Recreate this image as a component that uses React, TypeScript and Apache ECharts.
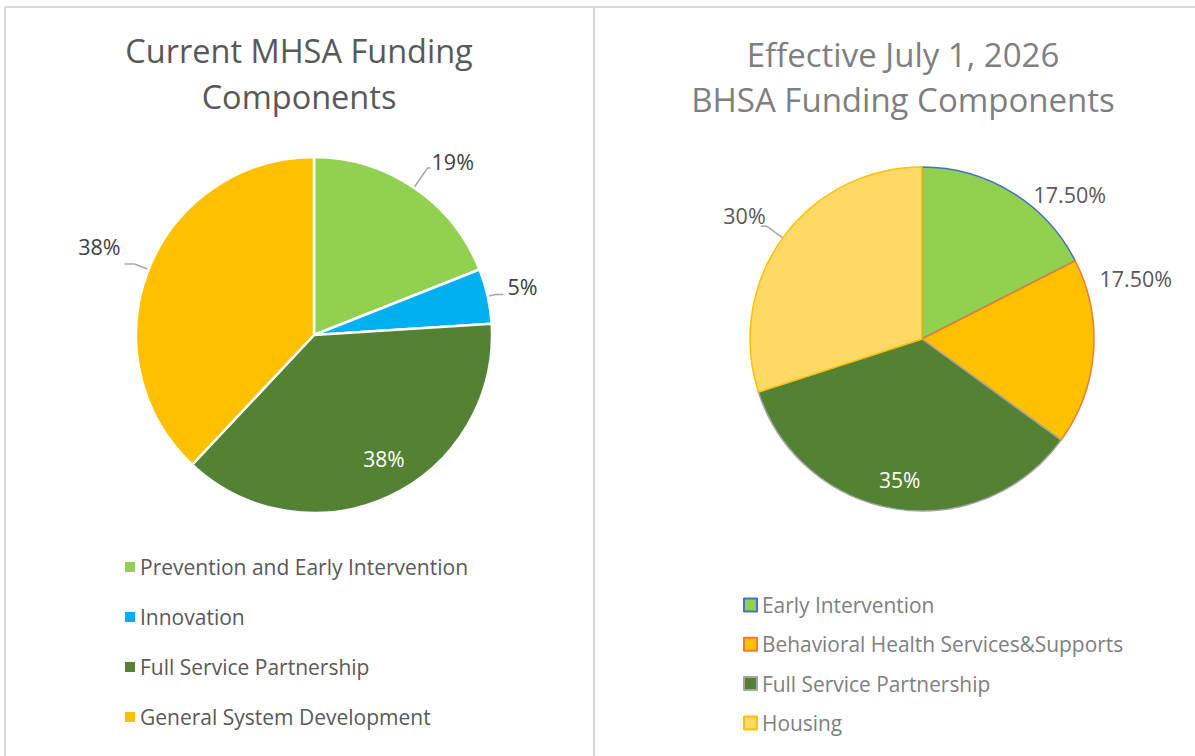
import React, { useEffect, useRef } from "react";
import * as echarts from "echarts";

const mhsaNames = [
  "Prevention and Early Intervention",
  "Innovation",
  "Full Service Partnership",
  "General System Development",
];
const mhsaValues = [19, 5, 38, 38];
const mhsaLabels = ["19%", "5%", "38%", "38%"];
const mhsaColors = ["#92D050", "#00B0F0", "#548235", "#FFC000"];

const bhsaNames = [
  "Early Intervention",
  "Behavioral Health Services&Supports",
  "Full Service Partnership",
  "Housing",
];
const bhsaValues = [17.5, 17.5, 35, 30];
const bhsaLabels = ["17.50%", "17.50%", "35%", "30%"];
const bhsaColors = ["#92D050", "#FFC000", "#548235", "#FFD966"];
const bhsaBorders = ["#4472C4", "#ED7D31", "#A5A5A5", "#FFC000"];

const FONT = "Open Sans";

export default function App() {
  const ref = useRef<HTMLDivElement>(null);
  useEffect(() => {
    if (!ref.current) return;
    const chart = echarts.init(ref.current, null, { renderer: "svg" });
    const leftR = 178;
    const rightR = 172;
    const leftC = [314, 335];
    const rightC = [922, 339];
    const gray = "#d9d9d9";
    const leaderStyle = { color: "#a6a6a6", width: 1.5 };

    const leftLine = [
      { length: 24, length2: 3 },
      { length: 8, length2: 8 },
      { show: false },
      { length: 15, length2: 10 },
    ];
    const leftShift = [{ dx: -3, dy: -6 }, { dy: -8 }, {}, { dy: -17 }];
    const rightShift = [{ dy: 6 }, { dy: -74, dx: -18 }, {}, { dx: 9, dy: -11 }];

    const option: any = {
      animation: false,
      backgroundColor: "#ffffff",
      graphic: [
        { type: "line", shape: { x1: 5, y1: 7, x2: 1195, y2: 7 }, style: { stroke: gray, lineWidth: 2 } },
        { type: "line", shape: { x1: 5, y1: 7, x2: 5, y2: 756 }, style: { stroke: gray, lineWidth: 2 } },
        { type: "line", shape: { x1: 594, y1: 7, x2: 594, y2: 756 }, style: { stroke: gray, lineWidth: 2 } },
      ],
      title: [
        {
          text: "Current MHSA Funding\nComponents",
          left: 294,
          top: 22,
          textAlign: "center",
          textStyle: { fontFamily: FONT, fontSize: 32.5, fontWeight: "normal", color: "#595959", lineHeight: 46 },
        },
        {
          text: "Effective July 1, 2026\nBHSA Funding Components",
          left: 898,
          top: 27,
          textAlign: "center",
          textStyle: { fontFamily: FONT, fontSize: 33, fontWeight: "normal", color: "#7f7f7f", lineHeight: 45 },
        },
      ],
      legend: [
        {
          orient: "vertical",
          left: 120,
          top: 551,
          icon: "rect",
          itemWidth: 10,
          itemHeight: 10,
          itemGap: 28,
          selectedMode: false,
          textStyle: { fontFamily: FONT, fontSize: 21, color: "#595959", lineHeight: 22 },
          data: mhsaNames.map((n, i) => ({
            name: n,
            itemStyle: { color: mhsaColors[i], borderWidth: 0 },
          })),
        },
        {
          orient: "vertical",
          left: 738,
          top: 589,
          icon: "rect",
          itemWidth: 13,
          itemHeight: 13,
          itemGap: 17.3,
          selectedMode: false,
          textStyle: { fontFamily: FONT, fontSize: 20.9, color: "#7f7f7f", lineHeight: 22 },
          data: bhsaNames.map((n, i) => ({
            name: n,
            itemStyle: { color: bhsaColors[i], borderColor: bhsaBorders[i], borderWidth: 2 },
          })),
        },
      ],
      series: [
        {
          type: "pie",
          center: leftC,
          radius: [0, leftR],
          startAngle: 90,
          clockwise: true,
          silent: true,
          itemStyle: { borderColor: "#ffffff", borderWidth: 2.5 },
          label: {
            show: true,
            position: "outside",
            fontFamily: FONT,
            fontSize: 21.5,
            color: "#404040",
            overflow: "none",
            distanceToLabelLine: 4,
            formatter: (p: any) => mhsaLabels[p.dataIndex],
          },
          labelLine: { show: true, length: 14, length2: 12, lineStyle: leaderStyle },
          labelLayout: (p: any) => leftShift[p.dataIndex],
          data: mhsaNames.map((n, i) => ({
            name: n,
            value: mhsaValues[i],
            itemStyle: { color: mhsaColors[i] },
            label: i === 2 ? { show: false } : undefined,
            labelLine: leftLine[i],
          })),
        },
        {
          // overlay ring used only to place the inside label near the outer rim
          type: "pie",
          center: leftC,
          radius: [leftR * 0.6, leftR],
          startAngle: 90,
          clockwise: true,
          silent: true,
          legendHoverLink: false,
          itemStyle: { color: "rgba(0,0,0,0)", borderWidth: 0 },
          label: { show: false },
          labelLine: { show: false },
          labelLayout: (p: any) => (p.dataIndex === 2 ? { dx: 8, dy: -8 } : {}),
          data: mhsaNames.map((n, i) => ({
            name: n,
            value: mhsaValues[i],
            label:
              i === 2
                ? {
                    show: true,
                    position: "inside",
                    fontFamily: FONT,
                    fontSize: 21,
                    color: "#ffffff",
                    formatter: () => mhsaLabels[i],
                  }
                : { show: false },
          })),
        },
        {
          type: "pie",
          center: rightC,
          radius: [0, rightR],
          startAngle: 90,
          clockwise: true,
          silent: true,
          label: {
            show: true,
            position: "outside",
            fontFamily: FONT,
            fontSize: 21.5,
            color: "#595959",
            overflow: "none",
            distanceToLabelLine: 4,
            formatter: (p: any) => bhsaLabels[p.dataIndex],
          },
          labelLine: { show: true, length: 20, length2: 6, lineStyle: leaderStyle },
          labelLayout: (p: any) => rightShift[p.dataIndex],
          data: bhsaNames.map((n, i) => ({
            name: n,
            value: bhsaValues[i],
            itemStyle: { color: bhsaColors[i], borderColor: bhsaBorders[i], borderWidth: 1.5 },
            label: i === 2 ? { show: false } : undefined,
            labelLine:
              i === 0 || i === 1
                ? { show: false, length: 5, length2: 15 }
                : i === 2
                ? { show: false }
                : undefined,
          })),
        },
        {
          type: "pie",
          center: rightC,
          radius: [rightR * 0.62, rightR],
          startAngle: 90,
          clockwise: true,
          silent: true,
          legendHoverLink: false,
          itemStyle: { color: "rgba(0,0,0,0)", borderWidth: 0 },
          label: { show: false },
          labelLine: { show: false },
          data: bhsaNames.map((n, i) => ({
            name: n,
            value: bhsaValues[i],
            label:
              i === 2
                ? {
                    show: true,
                    position: "inside",
                    fontFamily: FONT,
                    fontSize: 21,
                    color: "#ffffff",
                    formatter: () => bhsaLabels[i],
                  }
                : { show: false },
          })),
        },
      ],
    };
    chart.setOption(option);
    return () => chart.dispose();
  }, []);
  return (
    <div
      ref={ref}
      style={{ position: "fixed", left: 0, top: 0, width: 1195, height: 756, background: "#fff" }}
    />
  );
}
